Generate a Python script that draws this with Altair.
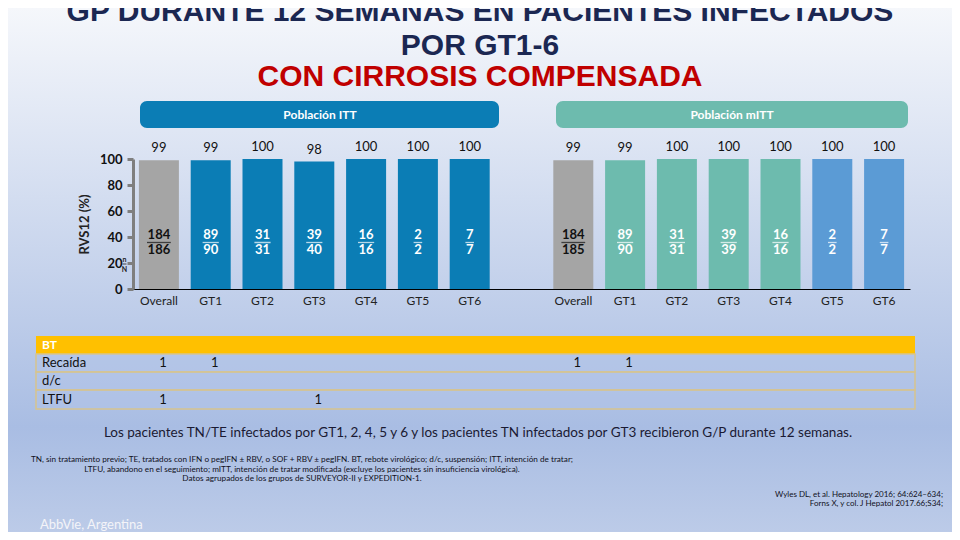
import altair as alt
import pandas as pd

# ---------------- data ----------------
groups = ["Overall", "GT1", "GT2", "GT3", "GT4", "GT5", "GT6"]
itt_svr = [99, 99, 100, 98, 100, 100, 100]
itt_num = [184, 89, 31, 39, 16, 2, 7]
itt_den = [186, 90, 31, 40, 16, 2, 7]
mitt_svr = [99, 99, 100, 100, 100, 100, 100]
mitt_num = [184, 89, 31, 39, 16, 2, 7]
mitt_den = [185, 90, 31, 39, 16, 2, 7]
itt_colors = ["#A5A5A5"] + ["#0B7DB5"] * 6
mitt_colors = ["#A5A5A5"] + ["#6DBBAE"] * 4 + ["#5B9BD5"] * 2

bt_rows = ["Recaída", "d/c", "LTFU"]
recaida_itt = [1, 1, None, None, None, None, None]
recaida_mitt = [1, 1, None, None, None, None, None]
dc_itt = [None] * 7
dc_mitt = [None] * 7
ltfu_itt = [1, None, None, 1, None, None, None]
ltfu_mitt = [None] * 7

FONT = "Lato"
TITLE_FONT = "Liberation Sans"

itt_slots = ["ITT|" + g for g in groups]
mitt_slots = ["mITT|" + g for g in groups]
slot_order = itt_slots + ["gap| "] + mitt_slots

bars = pd.DataFrame({
    "slot": itt_slots + mitt_slots,
    "svr": itt_svr + mitt_svr,
    "num": [str(v) for v in itt_num + mitt_num],
    "den": [str(v) for v in itt_den + mitt_den],
    "color": itt_colors + mitt_colors,
    "tcolor": ["#111111" if g == "Overall" else "#FFFFFF" for g in groups] * 2,
})

trows = []
for row, a, b in [("Recaída", recaida_itt, recaida_mitt), ("d/c", dc_itt, dc_mitt), ("LTFU", ltfu_itt, ltfu_mitt)]:
    for s, v in zip(itt_slots, a):
        if v is not None:
            trows.append({"row": row, "slot": s, "val": v})
    for s, v in zip(mitt_slots, b):
        if v is not None:
            trows.append({"row": row, "slot": s, "val": v})
table = pd.DataFrame(trows)

one = pd.DataFrame({"k": [0]})

# ---------------- encodings ----------------
X = alt.X(
    "slot:N", sort=slot_order,
    scale=alt.Scale(domain=slot_order, paddingInner=0, paddingOuter=0),
    axis=alt.Axis(title=None, labelExpr="split(datum.label, '|')[1]", ticks=False,
                  domainColor="#000000", domainWidth=1, labelFont=FONT, labelFontSize=12,
                  labelColor="#222222", labelPadding=6, labelAngle=0, zindex=1),
)
Y = alt.Y(
    "svr:Q", scale=alt.Scale(domain=[0, 100]),
    axis=alt.Axis(values=[0, 20, 40, 60, 80, 100], title="RVS12 (%)", titleFont=FONT,
                  titleFontSize=13, titleFontWeight="bold", titleColor="#222222", titlePadding=8,
                  labelFont=FONT, labelFontSize=13, labelFontWeight="bold", labelColor="#111111",
                  domainColor="#7F7F7F", domainWidth=3, tickColor="#7F7F7F", tickWidth=3,
                  tickSize=6, labelPadding=5, grid=False, zindex=1),
)

layers = []

# background gradient
layers.append(
    alt.Chart(one).mark_rect(
        color=alt.LinearGradient(
            gradient="linear", x1=0, x2=0, y1=0, y2=1,
            stops=[alt.GradientStop(color="#F5F7FB", offset=0),
                   alt.GradientStop(color="#C6D3EC", offset=0.5),
                   alt.GradientStop(color="#A9BDE3", offset=0.8),
                   alt.GradientStop(color="#BCCBE8", offset=1)])
    ).encode(x=alt.value(-125), x2=alt.value(819), y=alt.value(-151), y2=alt.value(373))
)

# title
for txt, yy, col in [("GP DURANTE 12 SEMANAS EN PACIENTES INFECTADOS", -147, "#1B2752"),
                     ("POR GT1-6", -113, "#1B2752"),
                     ("CON CIRROSIS COMPENSADA", -82, "#C00000")]:
    layers.append(
        alt.Chart(one).mark_text(text=txt, font=TITLE_FONT, fontSize=30, fontWeight="bold",
                                 color=col, align="center", baseline="middle")
        .encode(x=alt.value(347), y=alt.value(yy))
    )

# header pills
for x0, x1, col, txt, cx in [(7, 366, "#0B7DB5", "Población ITT", 187),
                             (423, 775, "#6DBBAE", "Población mITT", 599)]:
    layers.append(
        alt.Chart(one).mark_rect(color=col, cornerRadius=7)
        .encode(x=alt.value(x0), x2=alt.value(x1), y=alt.value(-58), y2=alt.value(-31))
    )
    layers.append(
        alt.Chart(one).mark_text(text=txt, font=FONT, fontSize=12, fontWeight="bold",
                                 color="#FFFFFF", align="center", baseline="middle")
        .encode(x=alt.value(cx), y=alt.value(-44))
    )

# bars
layers.append(
    alt.Chart(bars).mark_bar(width=40).encode(x=X, y=Y, color=alt.Color("color:N", scale=None))
)
# value labels
layers.append(
    alt.Chart(bars).mark_text(font=FONT, fontSize=13, color="#111111", baseline="bottom", dy=-5)
    .encode(x=X, y=Y, text="svr:Q")
)
# fractions: numerator, underline, denominator
layers.append(
    alt.Chart(bars).mark_text(font=FONT, fontSize=13, fontWeight="bold", baseline="middle")
    .encode(x=X, y=alt.value(76), text="num:N", color=alt.Color("tcolor:N", scale=None))
)
layers.append(
    alt.Chart(bars).transform_calculate(ulw="length(datum.num) * 7.6 + 1")
    .mark_tick(orient="horizontal", thickness=1.3)
    .encode(x=X, y=alt.value(83.5), size=alt.Size("ulw:Q", scale=None),
            color=alt.Color("tcolor:N", scale=None))
)
layers.append(
    alt.Chart(bars).mark_text(font=FONT, fontSize=13, fontWeight="bold", baseline="middle")
    .encode(x=X, y=alt.value(91), text="den:N", color=alt.Color("tcolor:N", scale=None))
)
# n/N marker
layers.append(alt.Chart(one).mark_text(text="n", font=FONT, fontSize=7, fontWeight="bold",
                                       color="#222222", align="center", baseline="middle")
              .encode(x=alt.value(-8.5), y=alt.value(101)))
layers.append(alt.Chart(one).mark_rule(color="#222222", strokeWidth=0.8)
              .encode(x=alt.value(-10.5), x2=alt.value(-6.5), y=alt.value(105)))
layers.append(alt.Chart(one).mark_text(text="N", font=FONT, fontSize=7, fontWeight="bold",
                                       color="#222222", align="center", baseline="middle")
              .encode(x=alt.value(-8.5), y=alt.value(111)))

# table
layers.append(
    alt.Chart(one).mark_rect(color="#FFC000")
    .encode(x=alt.value(-97), x2=alt.value(782), y=alt.value(177), y2=alt.value(195))
)
layers.append(
    alt.Chart(one).mark_text(text="BT", font=FONT, fontSize=12, fontWeight="bold", color="#FFFFFF",
                             align="left", baseline="middle")
    .encode(x=alt.value(-91), y=alt.value(186))
)
row_bounds = [(195, 213), (213, 231), (231, 250)]
for r, (y0, y1) in zip(bt_rows, row_bounds):
    layers.append(
        alt.Chart(one).mark_rect(fill="#B2C4E7", fillOpacity=0.5, stroke="#D6C48E", strokeWidth=1.5)
        .encode(x=alt.value(-97), x2=alt.value(782), y=alt.value(y0), y2=alt.value(y1))
    )
    layers.append(
        alt.Chart(one).mark_text(text=r, font=FONT, fontSize=13, color="#111111",
                                 align="left", baseline="middle")
        .encode(x=alt.value(-91), y=alt.value((y0 + y1) / 2))
    )
    if len(table[table["row"] == r]):
        layers.append(
            alt.Chart(table).transform_filter(alt.datum.row == r)
            .mark_text(font=FONT, fontSize=13, color="#111111", baseline="middle", dx=4)
            .encode(x=X, y=alt.value((y0 + y1) / 2), text="val:Q")
        )

# footnotes
layers.append(
    alt.Chart(one).mark_text(
        text="Los pacientes TN/TE infectados por GT1, 2, 4, 5 y 6 y los pacientes TN infectados por GT3 recibieron G/P durante 12 semanas.",
        font=FONT, fontSize=13.5, color="#1A1A33", align="center", baseline="middle")
    .encode(x=alt.value(345), y=alt.value(274))
)
small = [
    "TN, sin tratamiento previo; TE, tratados con IFN o pegIFN ± RBV, o SOF + RBV ± pegIFN. BT, rebote virológico; d/c, suspensión; ITT, intención de tratar;",
    "LTFU, abandono en el seguimiento; mITT, intención de tratar modificada (excluye los pacientes sin insuficiencia virológica).",
    "Datos agrupados de los grupos de SURVEYOR-II y EXPEDITION-1.",
]
for txt, yy in zip(small, [301, 311, 320]):
    layers.append(
        alt.Chart(one).mark_text(text=txt, font=FONT, fontSize=8.2, color="#111122",
                                 align="center", baseline="middle")
        .encode(x=alt.value(169), y=alt.value(yy))
    )
refs = ["Wyles DL, et al. Hepatology 2016; 64:624–634;", "Forns X, y col. J Hepatol 2017.66;S34;"]
for txt, yy in zip(refs, [336, 345]):
    layers.append(
        alt.Chart(one).mark_text(text=txt, font=FONT, fontSize=8, color="#111122",
                                 align="right", baseline="middle")
        .encode(x=alt.value(810), y=alt.value(yy))
    )
layers.append(
    alt.Chart(one).mark_text(text="AbbVie, Argentina", font=FONT, fontSize=13, color="#F4F4F8",
                             align="left", baseline="middle")
    .encode(x=alt.value(-93), y=alt.value(366))
)

chart = alt.layer(*layers).properties(
    width=777, height=130,
    autosize=alt.AutoSizeParams(type="none"),
    padding={"left": 125, "top": 151, "right": 42, "bottom": 243},
    background="#DDE4F2",
).configure_view(stroke=None)

chart.save("out.html", embed_options={"renderer": "svg", "actions": False})
